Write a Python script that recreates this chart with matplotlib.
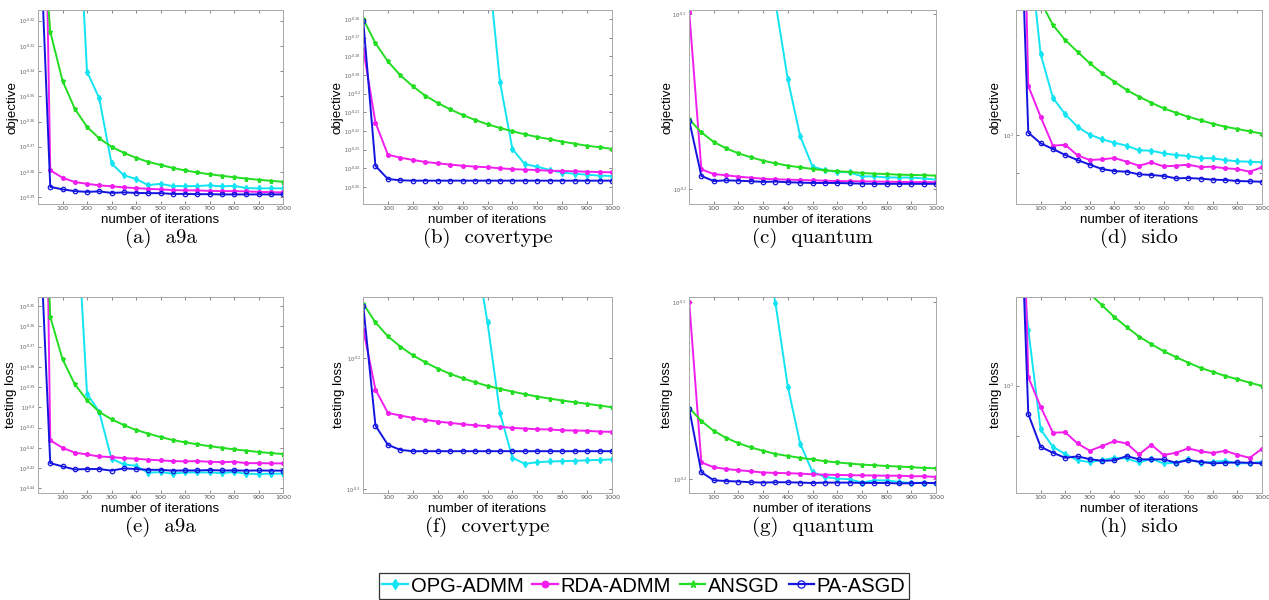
import numpy as np
import matplotlib
matplotlib.use("Agg")
import matplotlib.pyplot as plt
from matplotlib.lines import Line2D

iters = [1, 50, 100, 150, 200, 250, 300, 350, 400, 450, 500,
         550, 600, 650, 700, 750, 800, 850, 900, 950, 1000]

methods = ["OPG-ADMM", "RDA-ADMM", "ANSGD", "PA-ASGD"]

# ---- values stored as log10(value) ----
# (a) a9a objective
a9a_obj_opg = [-0.15, -0.18, -0.21, -0.246, -0.3402, -0.3508, -0.3766, -0.3813, -0.3828, -0.3852, -0.3847,
               -0.3856, -0.3856, -0.3856, -0.3853, -0.3857, -0.3855, -0.3864, -0.3865, -0.3865, -0.3865]
a9a_obj_rda = [-0.10, -0.3793, -0.3823, -0.3840, -0.3847, -0.3853, -0.3857, -0.3861, -0.3864, -0.3867, -0.3869,
               -0.3872, -0.3873, -0.3873, -0.3875, -0.3876, -0.3876, -0.3877, -0.3879, -0.3880, -0.3881]
a9a_obj_ansgd = [-0.26, -0.3244, -0.3438, -0.3549, -0.3621, -0.3667, -0.3700, -0.3724, -0.3744, -0.3760, -0.3772,
                 -0.3784, -0.3794, -0.3802, -0.3809, -0.3815, -0.3821, -0.3826, -0.3831, -0.3835, -0.3839]
a9a_obj_pa = [-0.267, -0.3859, -0.3869, -0.3876, -0.3879, -0.3877, -0.3883, -0.3881, -0.3883, -0.3884, -0.3884,
              -0.3887, -0.3887, -0.3888, -0.3888, -0.3889, -0.3889, -0.3889, -0.3889, -0.3889, -0.3889]

# (b) covertype objective
cov_obj_opg = [0.05, 0.03, 0.01, -0.01, -0.03, -0.05, -0.065, -0.08, -0.095, -0.105, -0.127,
               -0.1937, -0.2296, -0.2378, -0.2391, -0.2409, -0.2423, -0.2429, -0.2434, -0.2439, -0.2441]
cov_obj_rda = [-0.1761, -0.2155, -0.2327, -0.2343, -0.2355, -0.2366, -0.2373, -0.2380, -0.2386, -0.2391, -0.2394,
               -0.2400, -0.2404, -0.2407, -0.2409, -0.2413, -0.2414, -0.2416, -0.2418, -0.2420, -0.2421]
cov_obj_ansgd = [-0.1600, -0.1730, -0.1827, -0.1902, -0.1960, -0.2011, -0.2050, -0.2084, -0.2114, -0.2141, -0.2164,
                 -0.2184, -0.2201, -0.2218, -0.2232, -0.2244, -0.2257, -0.2268, -0.2279, -0.2287, -0.2296]
cov_obj_pa = [-0.1611, -0.2387, -0.2457, -0.2464, -0.2466, -0.2466, -0.2466, -0.2466, -0.2466, -0.2466, -0.2466,
              -0.2466, -0.2466, -0.2466, -0.2466, -0.2466, -0.2466, -0.2466, -0.2466, -0.2466, -0.2466]

# (c) quantum objective
qua_obj_opg = [0.05, 0.03, 0.01, -0.01, -0.03, -0.05, -0.07, -0.0933, -0.1373, -0.1696, -0.1871,
               -0.1890, -0.1901, -0.1903, -0.1926, -0.1927, -0.1932, -0.1933, -0.1933, -0.1938, -0.1945]
qua_obj_rda = [-0.0990, -0.1886, -0.1913, -0.1920, -0.1928, -0.1934, -0.1940, -0.1943, -0.1945, -0.1947, -0.1949,
               -0.1951, -0.1953, -0.1954, -0.1955, -0.1956, -0.1957, -0.1958, -0.1959, -0.1959, -0.1960]
qua_obj_ansgd = [-0.1601, -0.1675, -0.1730, -0.1766, -0.1795, -0.1817, -0.1837, -0.1852, -0.1865, -0.1875, -0.1884,
                 -0.1892, -0.1897, -0.1901, -0.1907, -0.1911, -0.1913, -0.1917, -0.1918, -0.1920, -0.1922]
qua_obj_pa = [-0.1609, -0.1924, -0.1953, -0.1949, -0.1951, -0.1954, -0.1958, -0.1956, -0.1960, -0.1962, -0.1964,
              -0.1964, -0.1964, -0.1966, -0.1968, -0.1969, -0.1969, -0.1969, -0.1969, -0.1969, -0.1969]

# (d) sido objective
sido_obj_opg = [-0.5, -0.765, -0.9031, -0.9554, -0.9752, -0.9901, -0.9996, -1.0051, -1.0092, -1.0128, -1.0183,
                -1.0187, -1.0219, -1.0239, -1.0251, -1.0275, -1.0279, -1.0299, -1.0315, -1.0319, -1.0327]
sido_obj_rda = [-0.306, -0.9414, -0.9781, -1.0128, -1.0116, -1.0243, -1.0299, -1.0291, -1.0275, -1.0319, -1.0367,
                -1.0327, -1.0375, -1.0367, -1.0355, -1.0383, -1.0379, -1.0398, -1.0407, -1.0439, -1.0386]
sido_obj_ansgd = [-0.6, -0.78, -0.840, -0.8684, -0.8864, -0.9004, -0.9142, -0.9262, -0.9362, -0.9462, -0.9542,
                  -0.9614, -0.9681, -0.9733, -0.9781, -0.9824, -0.9865, -0.9901, -0.9928, -0.9956, -0.9984]
sido_obj_pa = [-0.574, -0.9972, -1.0099, -1.0167, -1.0239, -1.0299, -1.0355, -1.0407, -1.0431, -1.0439, -1.0470,
               -1.0478, -1.0490, -1.0518, -1.0514, -1.0522, -1.0534, -1.0538, -1.0550, -1.0554, -1.0559]

# (e) a9a testing loss
a9a_test_opg = [-0.15, -0.19, -0.23, -0.2848, -0.3932, -0.4023, -0.4254, -0.4282, -0.4289, -0.4323, -0.4320,
                -0.4328, -0.4322, -0.4322, -0.4322, -0.4325, -0.4320, -0.4328, -0.4330, -0.4328, -0.4328]
a9a_test_rda = [0.0, -0.4163, -0.4200, -0.4224, -0.4233, -0.4243, -0.4246, -0.4251, -0.4254, -0.4259, -0.4262,
                -0.4266, -0.4267, -0.4266, -0.4269, -0.4271, -0.4269, -0.4276, -0.4276, -0.4277, -0.4277]
a9a_test_ansgd = [-0.195, -0.3553, -0.3762, -0.3886, -0.3965, -0.4023, -0.4059, -0.4088, -0.4112, -0.4130, -0.4147,
                  -0.4162, -0.4173, -0.4183, -0.4192, -0.4200, -0.4208, -0.4214, -0.4221, -0.4226, -0.4231]
a9a_test_pa = [-0.293, -0.4276, -0.4292, -0.4307, -0.4305, -0.4305, -0.4313, -0.4302, -0.4305, -0.4309, -0.4309,
               -0.4313, -0.4312, -0.4312, -0.4310, -0.4312, -0.4312, -0.4313, -0.4312, -0.4313, -0.4313]

# (f) covertype testing loss
cov_test_opg = [0.05, 0.03, 0.01, -0.01, -0.03, -0.05, -0.065, -0.08, -0.095, -0.116, -0.1730,
                -0.2418, -0.2759, -0.2805, -0.2793, -0.2787, -0.2785, -0.2782, -0.2778, -0.2775, -0.2772]
cov_test_rda = [-0.1785, -0.2241, -0.2418, -0.2438, -0.2456, -0.2471, -0.2484, -0.2494, -0.2504, -0.2512, -0.2519,
                -0.2524, -0.2532, -0.2537, -0.2542, -0.2544, -0.2550, -0.2552, -0.2554, -0.2560, -0.2562]
cov_test_ansgd = [-0.1588, -0.1730, -0.1836, -0.1914, -0.1980, -0.2033, -0.2081, -0.2121, -0.2155, -0.2185, -0.2213,
                  -0.2235, -0.2256, -0.2276, -0.2294, -0.2309, -0.2324, -0.2337, -0.2349, -0.2362, -0.2375]
cov_test_pa = [-0.1603, -0.2514, -0.2661, -0.2699, -0.2709, -0.2709, -0.2709, -0.2709, -0.2709, -0.2709, -0.2709,
               -0.2709, -0.2709, -0.2709, -0.2709, -0.2709, -0.2709, -0.2709, -0.2709, -0.2709, -0.2709]

# (g) quantum testing loss
qua_test_opg = [0.05, 0.03, 0.01, -0.01, -0.03, -0.05, -0.066, -0.1003, -0.1476, -0.1798, -0.1959,
                -0.1987, -0.1996, -0.2000, -0.2019, -0.2006, -0.2007, -0.2015, -0.2021, -0.2019, -0.2024]
qua_test_rda = [-0.1000, -0.1905, -0.1932, -0.1942, -0.1949, -0.1955, -0.1962, -0.1964, -0.1966, -0.1968, -0.1972,
                -0.1974, -0.1976, -0.1977, -0.1978, -0.1979, -0.1980, -0.1980, -0.1983, -0.1983, -0.1987]
qua_test_ansgd = [-0.1596, -0.1671, -0.1726, -0.1766, -0.1796, -0.1820, -0.1839, -0.1857, -0.1868, -0.1879, -0.1888,
                  -0.1898, -0.1905, -0.1911, -0.1917, -0.1921, -0.1925, -0.1928, -0.1932, -0.1936, -0.1938]
qua_test_pa = [-0.1603, -0.1960, -0.2006, -0.2010, -0.2013, -0.2017, -0.2019, -0.2017, -0.2017, -0.2019, -0.2021,
               -0.2019, -0.2019, -0.2019, -0.2021, -0.2021, -0.2021, -0.2024, -0.2022, -0.2021, -0.2021]

# (h) sido testing loss
sido_test_opg = [-0.837, -0.9493, -1.0397, -1.0556, -1.0622, -1.0677, -1.0695, -1.0677, -1.0656, -1.0662, -1.0698,
                 -1.0665, -1.0707, -1.0701, -1.0668, -1.0701, -1.0692, -1.0683, -1.0707, -1.0704, -1.0692]
sido_test_rda = [-0.588, -0.9923, -1.0191, -1.0428, -1.0424, -1.0525, -1.0592, -1.0549, -1.0504, -1.0525, -1.0625,
                 -1.0537, -1.0631, -1.0610, -1.0570, -1.0597, -1.0613, -1.0592, -1.0628, -1.0656, -1.0574]
sido_test_ansgd = [-0.6, -0.8, -0.84, -0.86, -0.88, -0.90, -0.9165, -0.9271, -0.9377, -0.9468, -0.9554,
                   -0.9623, -0.9687, -0.9741, -0.9791, -0.9839, -0.9875, -0.9912, -0.9942, -0.9973, -1.0003]
sido_test_pa = [-0.7195, -1.0258, -1.0556, -1.0610, -1.0656, -1.0643, -1.0668, -1.0683, -1.0679, -1.0640, -1.0670,
                -1.0670, -1.0670, -1.0701, -1.0677, -1.0692, -1.0707, -1.0701, -1.0698, -1.0701, -1.0707]

# y-axis tick exponents (log10 units)
a9a_obj_ticks = [-0.32, -0.33, -0.34, -0.35, -0.36, -0.37, -0.38, -0.39]
cov_obj_ticks = [-0.16, -0.17, -0.18, -0.19, -0.2, -0.21, -0.22, -0.23, -0.24, -0.25]
qua_obj_ticks = [-0.1, -0.2]
sido_obj_ticks = [-1]
a9a_test_ticks = [-0.35, -0.36, -0.37, -0.38, -0.39, -0.4, -0.41, -0.42, -0.43, -0.44]
cov_test_ticks = [-0.2, -0.3]
qua_test_ticks = [-0.1, -0.2]
sido_test_ticks = [-1]

captions = ["(a)  a9a", "(b)  covertype", "(c)  quantum", "(d)  sido",
            "(e)  a9a", "(f)  covertype", "(g)  quantum", "(h)  sido"]
ylabels = ["objective"] * 4 + ["testing loss"] * 4

panels = [
    (a9a_obj_opg, a9a_obj_rda, a9a_obj_ansgd, a9a_obj_pa, a9a_obj_ticks, (-0.3927, -0.3158)),
    (cov_obj_opg, cov_obj_rda, cov_obj_ansgd, cov_obj_pa, cov_obj_ticks, (-0.2591, -0.1552)),
    (qua_obj_opg, qua_obj_rda, qua_obj_ansgd, qua_obj_pa, qua_obj_ticks, (-0.2084, -0.0977)),
    (sido_obj_opg, sido_obj_rda, sido_obj_ansgd, sido_obj_pa, sido_obj_ticks, (-1.0825, -0.8505)),
    (a9a_test_opg, a9a_test_rda, a9a_test_ansgd, a9a_test_pa, a9a_test_ticks, (-0.4421, -0.3455)),
    (cov_test_opg, cov_test_rda, cov_test_ansgd, cov_test_pa, cov_test_ticks, (-0.3023, -0.1537)),
    (qua_test_opg, qua_test_rda, qua_test_ansgd, qua_test_pa, qua_test_ticks, (-0.2075, -0.0969)),
    (sido_test_opg, sido_test_rda, sido_test_ansgd, sido_test_pa, sido_test_ticks, (-1.0971, -0.9195)),
]

colors = ["#12E4F2", "#F21EEE", "#22DD22", "#1414E0"]
styles = [
    dict(marker="d", ms=3.2, mfc=colors[0], mec=colors[0]),
    dict(marker="o", ms=2.6, mfc=colors[1], mec=colors[1]),
    dict(marker="*", ms=3.6, mfc=colors[2], mec=colors[2]),
    dict(marker="o", ms=3.2, mfc="none", mec=colors[3], mew=0.9),
]

W, H = 1269, 600
fig = plt.figure(figsize=(W / 100, H / 100), dpi=100)

cols = [(38, 283), (363, 612), (689, 936), (1016, 1262)]
rows = [(10, 204), (297, 492.5)]
ylabel_x = [13, 338, 667, 996, 11, 339, 667, 995.5]


def exp_label(t):
    s = ("%g" % t).replace("-", "\u2010")
    return r"$\mathregular{10^{%s}}$" % s


for i, p in enumerate(panels):
    r, c = divmod(i, 4)
    x0, x1 = cols[c]
    yt, yb = rows[r]
    ax = fig.add_axes([x0 / W, 1 - yb / H, (x1 - x0) / W, (yb - yt) / H])
    series = p[:4]
    for k in range(4):
        ax.plot(iters, 10 ** np.array(series[k]), color=colors[k], lw=1.4, **styles[k])
    ax.set_yscale("log")
    lo, hi = p[5]
    ax.set_ylim(10 ** lo, 10 ** hi)
    ax.set_xlim(0, 1000)
    ax.set_xticks(range(100, 1001, 100))
    ax.set_xticklabels([str(v) for v in range(100, 1001, 100)], fontsize=4.6)
    ticks = p[4]
    tick_vals = [10 ** t for t in ticks]
    tick_labels = [exp_label(t) for t in ticks]
    if i in (3, 7):
        tick_vals.append(0.09)
        tick_labels.append("")
    ax.set_yticks(tick_vals)
    ax.set_yticklabels(tick_labels, fontsize=3.5)
    ax.yaxis.set_minor_locator(matplotlib.ticker.NullLocator())
    ax.tick_params(direction="in", length=2.5, width=0.5, colors="#555555",
                   top=True, right=True, pad=1.5)
    for s in ax.spines.values():
        s.set_color("#A8A8A8")
        s.set_linewidth(0.7)
    fig.text((x0 + x1) / 2 / W, 1 - (yb + 16) / H, "number of iterations",
             ha="center", va="center", fontsize=9.6, family="Liberation Sans")
    fig.text(ylabel_x[i] / W, 1 - (yt + yb) / 2 / H, ylabels[i], rotation=90,
             ha="center", va="center", fontsize=9.6, family="Liberation Sans")
    fig.text((x0 + x1) / 2 / W, 1 - (yb + 34) / H, captions[i],
             ha="center", va="center", fontsize=15, family="cmr10")

handles = [Line2D([0], [0], color=colors[k], lw=1.6, **styles[k]) for k in range(4)]
for h, k in zip(handles, range(4)):
    h.set_markersize(styles[k]["ms"] + 2)
leg = fig.legend(handles, methods, loc="center", bbox_to_anchor=(644 / W, 1 - 586 / H),
                 ncol=4, frameon=True, fancybox=False, edgecolor="black",
                 handlelength=1.25, handletextpad=0.15, columnspacing=0.45, borderpad=0.15,
                 borderaxespad=0.0, prop={"family": "Liberation Sans", "size": 14.5})
leg.get_frame().set_linewidth(0.9)

fig.savefig("out.png", dpi=100)
